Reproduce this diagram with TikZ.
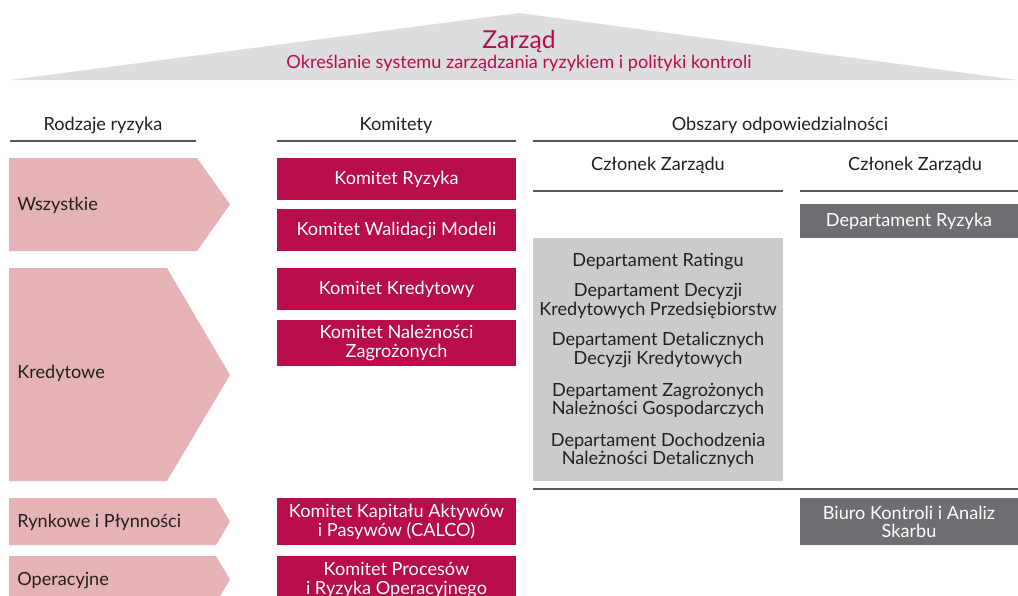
\documentclass[tikz,border=0pt]{standalone}
\usepackage{fontspec}
\setmainfont{Lato}
\definecolor{crim}{HTML}{B80C4C}
\definecolor{pinkfill}{HTML}{E5B3B6}
\definecolor{roofgray}{HTML}{DCDDDE}
\definecolor{boxgray}{HTML}{CBCBCB}
\definecolor{darkbox}{HTML}{6D6E71}
\definecolor{txt}{HTML}{231F20}
\definecolor{rule}{HTML}{58595B}
\begin{document}
\begin{tikzpicture}[x=0.75pt,y=-0.75pt,
  base/.style={font=\fontsize{13.6}{14}\selectfont, inner sep=0pt, align=center},
  freetext/.style={base, yshift=-1.3pt},
  header/.style={freetext, text=txt, anchor=center},
  hrule/.style={draw=rule, line width=0.8pt},
  komitet/.style={base, fill=crim, text=white, minimum width=239*0.75pt, anchor=north},
  darkcell/.style={base, fill=darkbox, text=white, minimum width=218*0.75pt, anchor=north},
  risk/.style={fill=pinkfill},
  risklabel/.style={freetext, text=txt, anchor=west},
  dept/.style={freetext, text=txt, anchor=center}
]
\useasboundingbox (0,0) rectangle (1018,596);
\begin{scope}
\clip (0,0) rectangle (1018,596);
% roof
\fill[roofgray] (10,80) -- (519,13) -- (1018,80) -- cycle;
\node[freetext, text=crim, font=\fontsize{18.5}{20}\selectfont] (zarzad) at (519,40) {Zarząd};
\node[freetext, text=crim] (zsub) at (519,62) {Określanie systemu zarządzania ryzykiem i polityki kontroli};

% headers
\node[header] (h1) at (103,124) {Rodzaje ryzyka};
\node[header] (h2) at (396,124) {Komitety};
\node[header] (h3) at (780,124) {Obszary odpowiedzialności};
\draw[hrule] (10,141) -- (196,141);
\draw[hrule] (277,141) -- (516,141);
\draw[hrule] (533,141) -- (1018,141);
\node[header] (cz1) at (658,164) {Członek Zarządu};
\node[header] (cz2) at (915,164) {Członek Zarządu};
\draw[hrule] (533,191) -- (783,191);
\draw[hrule] (800,191) -- (1018,191);

% risk arrows
\fill[risk] (9,158) -- (197,158) -- (230,204.5) -- (197,251) -- (9,251) -- cycle;
\fill[risk] (9,268) -- (167,268) -- (230,375) -- (167,481) -- (9,481) -- cycle;
\fill[risk] (9,498) -- (216,498) -- (230,521.5) -- (216,545) -- (9,545) -- cycle;
\fill[risk] (9,556) -- (216,556) -- (230,579.5) -- (216,603) -- (9,603) -- cycle;
\node[risklabel] (r1) at (17,204) {Wszystkie};
\node[risklabel] (r2) at (17,372) {Kredytowe};
\node[risklabel] (r3) at (17,521) {Rynkowe i Płynności};
\node[risklabel] (r4) at (17,579) {Operacyjne};

% committees
\node[komitet, minimum height=42*0.75pt] (k1) at (396.5,158) {Komitet Ryzyka};
\node[komitet, minimum height=42*0.75pt] (k2) at (396.5,209) {Komitet Walidacji Modeli};
\node[komitet, minimum height=42*0.75pt] (k3) at (396.5,268) {Komitet Kredytowy};
\node[komitet, minimum height=46*0.75pt] (k4) at (396.5,320) {Komitet Należności\\Zagrożonych};
\node[komitet, minimum height=47*0.75pt] (k5) at (396.5,498) {Komitet Kapitału Aktywów\\i Pasywów (CALCO)};
\node[komitet, minimum height=47*0.75pt] (k6) at (396.5,556) {Komitet Procesów\\i Ryzyka Operacyjnego};

% departments (gray block)
\fill[boxgray] (533,238) rectangle (783,481);
\node[dept] (d1) at (658,260) {Departament Ratingu};
\node[dept] (d2) at (658,299.5) {Departament Decyzji\\Kredytowych Przedsiębiorstw};
\node[dept] (d3) at (658,348.5) {Departament Detalicznych\\Decyzji Kredytowych};
\node[dept] (d4) at (658,398.5) {Departament Zagrożonych\\Należności Gospodarczych};
\node[dept] (d5) at (658,448.5) {Departament Dochodzenia\\Należności Detalicznych};
\draw[hrule] (533,489) -- (1018,489);

% dark cells
\node[darkcell, minimum height=34*0.75pt] (dr) at (909,204) {Departament Ryzyka};
\node[darkcell, minimum height=47*0.75pt] (bk) at (909,498) {Biuro Kontroli i Analiz\\Skarbu};
\end{scope}
\end{tikzpicture}
\end{document}
